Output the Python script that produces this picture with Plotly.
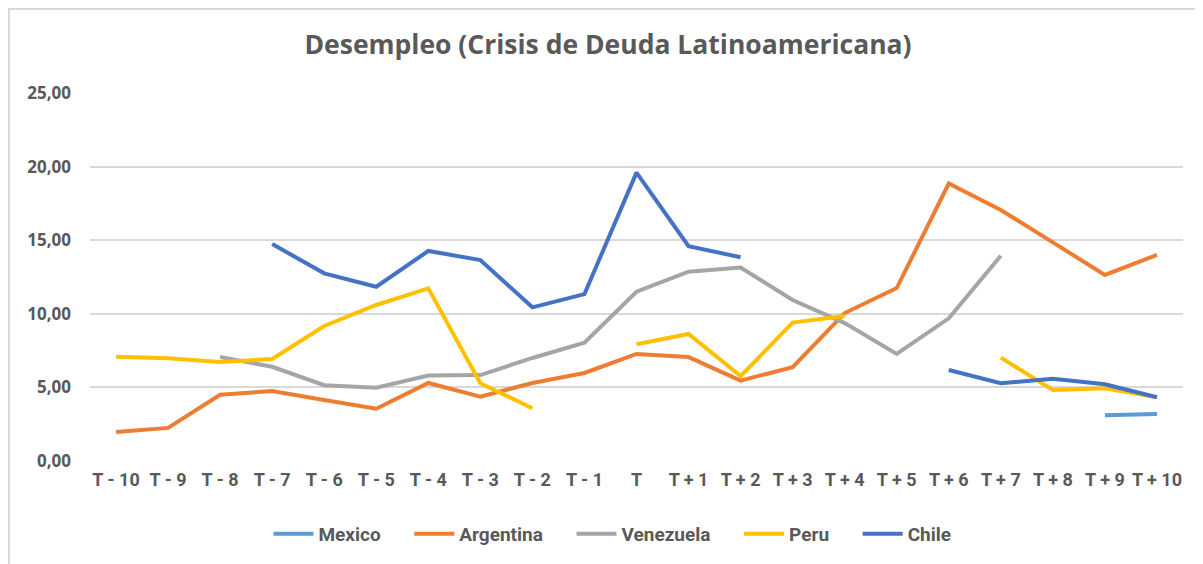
import plotly.graph_objects as go

categories = ["T - 10", "T - 9", "T - 8", "T - 7", "T - 6", "T - 5", "T - 4", "T - 3", "T - 2", "T - 1",
              "T", "T + 1", "T + 2", "T + 3", "T + 4", "T + 5", "T + 6", "T + 7", "T + 8", "T + 9", "T + 10"]

mexico = [None]*19 + [3.10, 3.19]
argentina = [1.97, 2.25, 4.50, 4.75, 4.15, 3.55, 5.30, 4.37, 5.30, 5.98, 7.27, 7.06, 5.46, 6.38,
             10.05, 11.75, 18.85, 17.05, 14.85, 12.64, 14.00]
venezuela = [None, None, 7.07, 6.40, 5.15, 4.98, 5.80, 5.84, 7.00, 8.04, 11.50, 12.86, 13.15, 10.94,
             9.37, 7.27, 9.69, 13.95, None, None, None]
peru = [7.09, 6.98, 6.72, 6.93, 9.17, 10.60, 11.73, 5.28, 3.58, None, 7.93, 8.63, 5.77, 9.40,
        9.85, None, None, 7.02, 4.82, 4.94, 4.33]
chile = [None, None, None, 14.74, 12.75, 11.84, 14.27, 13.65, 10.44, 11.34, 19.59, 14.60, 13.84,
         None, None, None, 6.18, 5.28, 5.59, 5.21, 4.33]

series = [("Mexico", mexico, "#5B9BD5"), ("Argentina", argentina, "#ED7D31"),
          ("Venezuela", venezuela, "#A5A5A5"), ("Peru", peru, "#FFC000"),
          ("Chile", chile, "#4472C4")]

pad = "\u00a0" * 5  # extra spacing between legend entries
fig = go.Figure()
for i, (name, vals, col) in enumerate(series):
    label = name + (pad if i < len(series) - 1 else "")
    fig.add_trace(go.Scatter(x=categories, y=vals, name=label, mode="lines",
                             line=dict(color=col, width=4), connectgaps=False,
                             hovertemplate=name + ": %{y:.2f}<extra></extra>"))

txt = "#595959"
# page has an 8px body margin; figure is offset by (8, 8)
W, H = 1195, 556
L, T = 82, 85
PW, PH = 1093, 368
fig.update_layout(
    width=W, height=H,
    paper_bgcolor="white", plot_bgcolor="white",
    margin=dict(l=L, r=W - L - PW, t=T, b=H - T - PH, autoexpand=False),
    separators=",.",
    title=dict(text="Desempleo (Crisis de Deuda Latinoamericana)", x=600/W, xref="container",
               xanchor="center", y=1-37/H, yref="container", yanchor="middle",
               font=dict(family="Open Sans", size=26.5, color=txt, weight="bold")),
    font=dict(family="Open Sans", color=txt),
    showlegend=True,
    legend=dict(orientation="h", x=0.478, xanchor="center", y=-0.198, yanchor="middle",
                font=dict(family="Roboto, sans-serif", size=19, color=txt, weight="bold"),
                itemwidth=40, tracegroupgap=0),
    xaxis=dict(type="category", range=[-0.5, 20.5], showgrid=False, showline=False, ticks="",
               tickfont=dict(family="Roboto, sans-serif", size=18, color=txt, weight="bold"),
               tickangle=0, ticklabelstandoff=6),
    yaxis=dict(range=[0, 25], dtick=5, tickformat=".2f", showgrid=True, gridcolor="#D9D9D9",
               gridwidth=1.5, zeroline=False, showline=False, ticks="", ticklabelstandoff=18,
               tickfont=dict(family="Open Sans", size=17, color=txt, weight="bold")),
)

# outer chart border (left and top edges visible; others off-page)
fig.add_shape(type="rect", xref="paper", yref="paper",
              x0=(1 - L)/PW, x1=(W + 20 - L)/PW, y0=(PH + T - (H + 20))/PH, y1=(PH + T - 1)/PH,
              line=dict(color="#D9D9D9", width=2), fillcolor="rgba(0,0,0,0)", layer="below")

fig.write_html("out.html")
